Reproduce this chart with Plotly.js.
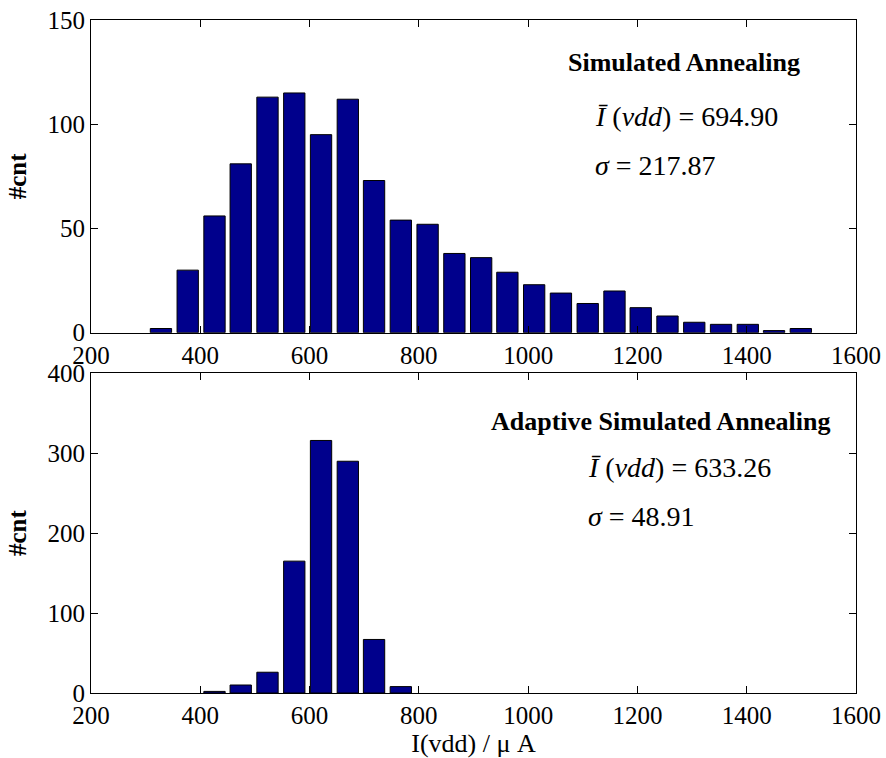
<!DOCTYPE html>
<html><head><meta charset="utf-8">
<script src="https://cdn.plot.ly/plotly-3.0.1.min.js"></script>
<style>html,body{margin:0;padding:0;background:#fff}</style>
</head><body><div id="chart" style="width:886px;height:758px"></div>
<script>
// ---- data ----
const binCentersSA = [328, 377, 426, 474, 523, 572, 621, 670, 718, 767, 816, 865, 914,
                      962, 1011, 1060, 1109, 1158, 1206, 1255, 1304, 1353, 1402, 1450, 1499];
const countsSA = [2, 30, 56, 81, 113, 115, 95, 112, 73, 54, 52, 38, 36,
                  29, 23, 19, 14, 20, 12, 8, 5, 4, 4, 1, 2];
const binCentersASA = [426, 474, 523, 572, 621, 670, 718, 767];
const countsASA = [2, 10, 26, 165, 316, 290, 67, 8];

const xTickVals = [200, 400, 600, 800, 1000, 1200, 1400, 1600];
const yTickValsSA = [0, 50, 100, 150];
const yTickValsASA = [0, 100, 200, 300, 400];

const labelSA = "Simulated Annealing";
const meanSA = "694.90";
const sigmaSA = "217.87";
const labelASA = "Adaptive Simulated Annealing";
const meanASA = "633.26";
const sigmaASA = "48.91";
const xTitle = "I(vdd) / \u03bc A";
const yTitle = "#cnt";

// ---- styling ----
const FONT = "'Liberation Serif', 'Times New Roman', serif";
const barColor = "#00008c";
const binWidth = 39;

const traces = [
  {type: "bar", x: binCentersSA, y: countsSA, width: binWidth, xaxis: "x", yaxis: "y",
   marker: {color: barColor, line: {color: "#000", width: 1}}, showlegend: false, hoverinfo: "x+y"},
  {type: "bar", x: binCentersASA, y: countsASA, width: binWidth, xaxis: "x2", yaxis: "y2",
   marker: {color: barColor, line: {color: "#000", width: 1}}, showlegend: false, hoverinfo: "x+y"}
];

function xAxis(anchor, withTitle) {
  const a = {
    anchor: anchor, range: [200, 1600], tickvals: xTickVals, ticktext: xTickVals.map(String),
    ticks: "inside", ticklen: 7, tickcolor: "#000", showline: true, linecolor: "#000", linewidth: 1,
    mirror: "ticks", showgrid: false, zeroline: false,
    tickfont: {family: FONT, size: 25, color: "#000"}
  };
  if (withTitle) a.title = {text: xTitle, font: {family: FONT, size: 26, color: "#000"}, standoff: 0};
  return a;
}
function yAxis(anchor, domain, range, ticks) {
  return {
    anchor: anchor, domain: domain, range: range, tickvals: ticks, ticktext: ticks.map(String),
    ticks: "inside", ticklen: 7, tickcolor: "#000", showline: true, linecolor: "#000", linewidth: 1,
    mirror: "ticks", showgrid: false, zeroline: false,
    tickfont: {family: FONT, size: 25, color: "#000"},
    title: {text: "<b>" + yTitle + "</b>", font: {family: FONT, size: 25, color: "#000"}, standoff: 13}
  };
}

function ann(xref, yref, x, y, text, size) {
  return {xref: xref, yref: yref, x: x, y: y, text: text, showarrow: false,
          xanchor: "left", yanchor: "middle", font: {family: FONT, size: size, color: "#000"}};
}

const layout = {
  width: 886, height: 758,
  margin: {l: 91, r: 30, t: 20, b: 65},
  paper_bgcolor: "#fff", plot_bgcolor: "#fff",
  bargap: 0,
  xaxis: xAxis("y", false),
  yaxis: yAxis("x", [0.5354, 1], [0, 150], yTickValsSA),
  xaxis2: xAxis("y2", true),
  yaxis2: yAxis("x2", [0, 0.475], [0, 400], yTickValsASA),
  annotations: [
    ann("x", "y", 1070, 129.4, "<b>" + labelSA + "</b>", 26),
    ann("x", "y", 1119, 103.5, "<i>\u012a</i> (<i>vdd</i>) = " + meanSA, 28),
    ann("x", "y", 1119, 80.4, "<i>\u03c3</i> = " + sigmaSA, 28),
    ann("x2", "y2", 928, 340, "<b>" + labelASA + "</b>", 26),
    ann("x2", "y2", 1105, 281.6, "<i>\u012a</i> (<i>vdd</i>) = " + meanASA, 28),
    ann("x2", "y2", 1105, 220.4, "<i>\u03c3</i> = " + sigmaASA, 28)
  ]
};

Plotly.newPlot("chart", traces, layout, {displayModeBar: false, staticPlot: true});
</script>
</body></html>
